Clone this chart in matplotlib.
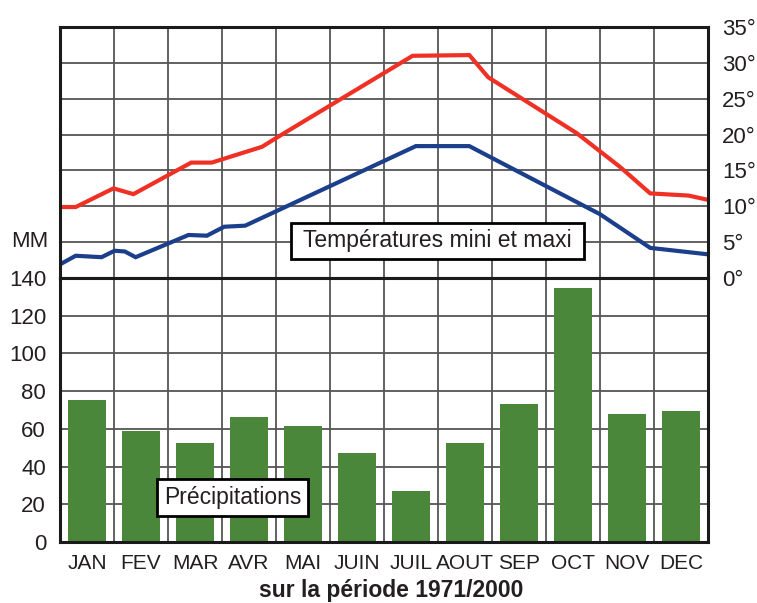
import numpy as np
import matplotlib
matplotlib.use("Agg")
import matplotlib.pyplot as plt

plt.rcParams["font.family"] = ["Liberation Sans", "DejaVu Sans"]

months = ["JAN", "FEV", "MAR", "AVR", "MAI", "JUIN", "JUIL", "AOUT", "SEP", "OCT", "NOV", "DEC"]
precip = [75.3, 58.9, 52.5, 66.3, 61.5, 47.2, 27.0, 52.5, 73.2, 134.7, 67.9, 69.5]

# temperature curves, x in month units (0 = start of january, 12 = end of december)
tmax_x = [0.0, 0.29, 0.99, 1.36, 2.43, 2.81, 3.74, 4.04, 6.53, 7.58, 7.93, 9.57, 10.37, 10.93, 11.64, 12.0]
tmax_y = [9.9, 9.9, 12.5, 11.7, 16.1, 16.1, 18.3, 19.7, 31.0, 31.1, 28.0, 20.2, 15.5, 11.8, 11.5, 10.9]
tmin_x = [0.0, 0.29, 0.77, 1.01, 1.20, 1.40, 2.38, 2.72, 3.04, 3.43, 6.59, 7.58, 7.96, 10.0, 10.93, 12.0]
tmin_y = [1.9, 3.1, 2.9, 3.8, 3.7, 2.9, 6.0, 5.9, 7.15, 7.3, 18.4, 18.4, 16.9, 8.9, 4.2, 3.3]

temp_ticks = [0, 5, 10, 15, 20, 25, 30, 35]
mm_ticks = [0, 20, 40, 60, 80, 100, 120, 140]

text_color = "#231f20"
grid_color = "#555555"

fig = plt.figure(figsize=(7.57, 6.03), dpi=100)
left, width = 60 / 757, 648 / 757
ax_t = fig.add_axes([left, 0.539, width, 0.955 - 0.539])
ax_p = fig.add_axes([left, 0.1012, width, 0.539 - 0.1012])

# --- temperatures
ax_t.plot(tmax_x, tmax_y, color="#ee3124", lw=3.0, solid_joinstyle="miter", zorder=3)
ax_t.plot(tmin_x, tmin_y, color="#1c3f8c", lw=3.0, solid_joinstyle="miter", zorder=3)
ax_t.set_xlim(0, 12)
ax_t.set_ylim(0, 35)
ax_t.set_xticks(np.arange(13))
ax_t.set_yticks(temp_ticks)
ax_t.set_yticklabels([f"{t}°" for t in temp_ticks])
ax_t.yaxis.tick_right()
ax_t.tick_params(axis="x", length=0, labelbottom=False)
ax_t.tick_params(axis="y", length=0, pad=10, labelsize=16, labelcolor=text_color)
for lbl in ax_t.get_yticklabels():
    lbl.set_horizontalalignment("left")
ax_t.grid(True, color=grid_color, lw=1.3)
ax_t.set_axisbelow(True)
ax_t.text(6.99, 5.2, " Températures mini et maxi ", ha="center", va="center",
          fontsize=16.5, color=text_color, zorder=5,
          bbox=dict(boxstyle="square,pad=0.28", facecolor="white", edgecolor="black", lw=2))

# --- precipitations
ax_p.bar(np.arange(12) + 0.5, precip, width=0.7, color="#4a873b", zorder=3)
ax_p.set_xlim(0, 12)
ax_p.set_ylim(0, 140)
ax_p.set_xticks(np.arange(12) + 0.5)
ax_p.set_xticklabels(months)
ax_p.set_xticks(np.arange(13), minor=True)
ax_p.set_yticks(mm_ticks)
ax_p.tick_params(axis="x", which="both", length=0, pad=9, labelsize=15, labelcolor=text_color)
ax_p.tick_params(axis="y", length=0, pad=10, labelsize=16, labelcolor=text_color)
ax_p.grid(True, which="minor", axis="x", color=grid_color, lw=1.3)
ax_p.grid(True, which="major", axis="y", color=grid_color, lw=1.3)
ax_p.set_axisbelow(True)
ax_p.text(3.2, 23.6, "Précipitations", ha="center", va="center",
          fontsize=16.5, color=text_color, zorder=5,
          bbox=dict(boxstyle="square,pad=0.3", facecolor="white", edgecolor="black", lw=2))

for ax in (ax_t, ax_p):
    for sp in ax.spines.values():
        sp.set_linewidth(2.2)
        sp.set_color("#1a1a1a")
        sp.set_zorder(6)

fig.text(48 / 757, 1 - 242 / 603, "MM", ha="right", va="center", fontsize=16, color=text_color)
fig.text(391 / 757, 1 - 590 / 603, "sur la période 1971/2000", ha="center", va="center",
         fontsize=16.5, fontweight="bold", color=text_color)

fig.savefig("out.png", dpi=100)
